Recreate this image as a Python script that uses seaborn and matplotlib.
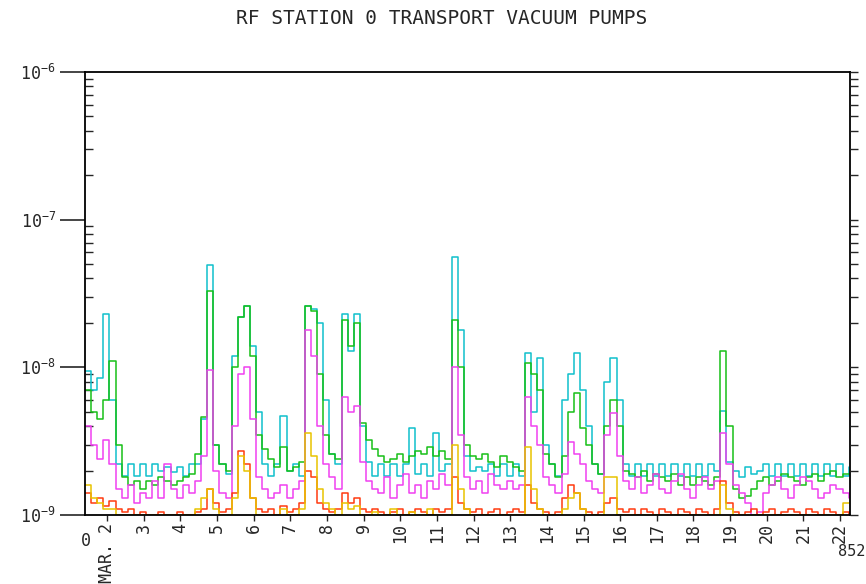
import numpy as np
import pandas as pd
import matplotlib
matplotlib.use("Agg")
import matplotlib.pyplot as plt
import seaborn as sns

# Pump pressures in units of 1e-9 Torr, one reading every 4 hours
start_day = 1.4
step_day = 1 / 6

vp_cyan = [
    9.5, 7, 8.5, 23, 6, 2.2, 1.85, 2.2, 1.85, 2.2,
    1.85, 2.2, 2.0, 2.1, 1.95, 2.1, 1.85, 2.2, 2.2, 4.5,
    49, 3, 2.2, 1.9, 12, 22, 26, 14, 5, 2.2,
    1.85, 2.2, 4.7, 2.0, 2.2, 1.85, 26, 25, 20, 6,
    2.6, 2.2, 23, 13, 23, 4, 2.3, 1.85, 2.2, 1.85,
    2.2, 1.85, 2.2, 3.9, 1.9, 2.2, 1.85, 3.6, 2.0, 2.2,
    56, 18, 2.5, 2.0, 2.1, 2.0, 2.2, 1.85, 2.2, 1.85,
    2.2, 1.85, 12.5, 5, 11.5, 3, 2.2, 1.85, 6, 9,
    12.5, 7, 4, 2.2, 1.9, 8, 11.5, 6, 2.2, 1.85,
    2.2, 1.85, 2.2, 1.85, 2.2, 1.85, 2.2, 1.85, 2.2, 1.85,
    2.2, 1.85, 2.2, 2.0, 5.1, 2.3, 2.0, 1.8, 2.1, 1.9,
    2.0, 2.2, 1.85, 2.2, 1.85, 2.2, 1.85, 2.2, 1.85, 2.2,
    1.85, 2.2, 1.85, 2.2, 1.85, 2.1,
]
vp_green = [
    7, 5, 4.5, 6, 11, 3, 1.8, 1.6, 1.7, 1.5,
    1.7, 1.6, 1.8, 1.7, 1.6, 1.7, 1.8, 1.9, 2.6, 4.6,
    33, 3, 2.2, 2.0, 10, 22, 26, 12, 3.5, 2.8,
    2.4, 2.1, 2.9, 2.0, 2.1, 2.3, 26, 24, 9, 3.5,
    2.6, 2.4, 21, 14, 20, 4.2, 3.2, 2.8, 2.5, 2.3,
    2.4, 2.6, 2.3, 2.5, 2.7, 2.6, 2.9, 2.5, 2.7, 2.4,
    21, 10, 3, 2.5, 2.4, 2.6, 2.3, 2.1, 2.5, 2.3,
    2.1, 2.0, 10.7, 9, 7, 2.6, 2.2, 1.8, 2.5, 5,
    6.7, 3.9, 3, 2.2, 1.9, 4, 6, 4, 2.0, 1.9,
    1.8, 2.0, 1.7, 1.9, 1.8, 1.7, 1.9, 1.6, 1.8, 1.6,
    1.8, 1.7, 1.6, 1.8, 13, 4, 1.5, 1.3, 1.35, 1.5,
    1.7, 1.8, 1.6, 1.7, 1.9, 1.8, 1.7, 1.6, 1.8, 1.9,
    1.7, 1.9, 2.0, 1.8, 1.9, 1.9,
]
vp_magenta = [
    4, 3, 2.4, 3.2, 2.2, 1.5, 1.3, 1.6, 1.2, 1.4,
    1.3, 1.7, 1.3, 2.2, 1.5, 1.3, 1.6, 1.4, 1.7, 2.5,
    9.6, 2.0, 1.4, 1.3, 4, 9, 10, 4.5, 1.8, 1.5,
    1.3, 1.4, 1.6, 1.3, 1.5, 1.7, 18, 12, 4, 2.2,
    1.8, 1.5, 6.3, 5, 5.5, 2.3, 1.7, 1.5, 1.4, 1.8,
    1.3, 1.6, 1.9, 1.4, 1.6, 1.3, 1.7, 1.5, 1.9, 1.6,
    10, 3.5, 1.8, 1.5, 1.7, 1.4, 1.9, 1.6, 1.5, 1.7,
    1.5, 1.6, 6.3, 4, 3, 1.8, 1.6, 1.4, 1.9, 3.1,
    2.6, 2.2, 1.7, 1.5, 1.4, 3.5, 4.9, 2.5, 1.7, 1.5,
    1.8, 1.4, 1.6, 1.9, 1.5, 1.4, 1.7, 1.9, 1.5, 1.3,
    1.6, 1.8, 1.5, 1.7, 3.6, 2.2, 1.6, 1.4, 1.2, 1.0,
    1.05, 1.4, 1.6, 1.8, 1.5, 1.3, 1.6, 1.8, 1.7, 1.5,
    1.3, 1.4, 1.6, 1.5, 1.4, 1.3,
]
vp_red = [
    1.4, 1.2, 1.3, 1.15, 1.25, 1.1, 1.05, 1.1, 1.0, 1.05,
    1.0, 1.0, 1.05, 1.0, 1.0, 1.05, 1.0, 1.0, 1.05, 1.1,
    1.5, 1.2, 1.05, 1.1, 1.4, 2.7, 2.2, 1.3, 1.1, 1.05,
    1.1, 1.0, 1.15, 1.05, 1.1, 1.2, 2.0, 1.8, 1.2, 1.1,
    1.05, 1.1, 1.4, 1.2, 1.3, 1.1, 1.05, 1.1, 1.05, 1.0,
    1.05, 1.1, 1.0, 1.05, 1.1, 1.05, 1.0, 1.1, 1.05, 1.1,
    1.8, 1.2, 1.1, 1.05, 1.1, 1.0, 1.05, 1.1, 1.0, 1.05,
    1.1, 1.05, 1.6, 1.2, 1.1, 1.05, 1.0, 1.05, 1.3, 1.6,
    1.4, 1.1, 1.05, 1.0, 1.05, 1.2, 1.3, 1.1, 1.05, 1.1,
    1.0, 1.1, 1.05, 1.0, 1.1, 1.05, 1.0, 1.1, 1.05, 1.0,
    1.1, 1.05, 1.0, 1.1, 1.7, 1.2, 1.05, 1.0, 1.05, 1.1,
    1.0, 1.05, 1.1, 1.0, 1.05, 1.1, 1.05, 1.0, 1.1, 1.05,
    1.0, 1.1, 1.05, 1.0, 1.05, 1.0,
]
vp_yellow = [
    1.6, 1.3, 1.2, 1.1, 1.1, 1.0, 1.0, 1.0, 1.0, 1.0,
    1.0, 1.0, 1.0, 1.0, 1.0, 1.0, 1.0, 1.0, 1.1, 1.3,
    1.5, 1.1, 1.0, 1.0, 1.3, 2.5, 2.0, 1.3, 1.0, 1.0,
    1.0, 1.0, 1.1, 1.0, 1.0, 1.1, 3.6, 2.5, 1.5, 1.2,
    1.1, 1.0, 1.2, 1.1, 1.15, 1.0, 1.0, 1.05, 1.0, 1.0,
    1.1, 1.0, 1.0, 1.05, 1.0, 1.0, 1.1, 1.0, 1.0, 1.0,
    3.0, 1.5, 1.1, 1.0, 1.0, 1.0, 1.0, 1.0, 1.0, 1.0,
    1.0, 1.0, 2.9, 1.5, 1.1, 1.0, 1.0, 1.0, 1.1, 1.3,
    1.4, 1.1, 1.0, 1.0, 1.0, 1.8, 1.8, 1.0, 1.0, 1.0,
    1.0, 1.0, 1.0, 1.0, 1.0, 1.0, 1.0, 1.0, 1.0, 1.0,
    1.0, 1.0, 1.0, 1.0, 1.6, 1.1, 1.0, 1.0, 1.0, 1.0,
    1.0, 1.0, 1.0, 1.0, 1.0, 1.0, 1.0, 1.0, 1.0, 1.0,
    1.0, 1.0, 1.0, 1.0, 1.2, 1.2,
]

pump_names = ["VP1", "VP2", "VP3", "VP4", "VP5"]
pump_colors = ["#10c0cc", "#18c018", "#f040f0", "#ff3a10", "#e8c400"]

day_ticks = [2, 3, 4, 5, 6, 7, 8, 9, 10, 11, 12, 13, 14, 15, 16, 17, 18, 19, 20, 21, 22]
day_labels = ["MAR. 2", "3", "4", "5", "6", "7", "8", "9", "10", "11", "12",
              "13", "14", "15", "16", "17", "18", "19", "20", "21", "22"]
decade_ticks = [1e-9, 1e-8, 1e-7, 1e-6]
decade_labels = [r"$\mathregular{10^{-9}}$", r"$\mathregular{10^{-8}}$",
                 r"$\mathregular{10^{-7}}$", r"$\mathregular{10^{-6}}$"]

# Long-form table
frames = []
for name, vals in zip(pump_names, [vp_cyan, vp_green, vp_magenta, vp_red, vp_yellow]):
    vals = np.asarray(vals, dtype=float)
    frames.append(pd.DataFrame({
        "day": start_day + step_day * np.arange(len(vals)),
        "pressure": vals * 1e-9,
        "pump": name,
    }))
df = pd.concat(frames, ignore_index=True)

sns.set_style("white")
plt.rcParams["font.family"] = ["DejaVu Sans Mono", "DejaVu Sans"]
plt.rcParams["mathtext.fontset"] = "custom"
plt.rcParams["mathtext.rm"] = "DejaVu Sans Mono"

fig = plt.figure(figsize=(8.66, 5.84), dpi=100)
ax = fig.add_axes([85 / 866, 1 - 515 / 584, 765 / 866, 443 / 584])

sns.lineplot(data=df, x="day", y="pressure", hue="pump", hue_order=pump_names,
             palette=dict(zip(pump_names, pump_colors)), drawstyle="steps-post",
             linewidth=1.1, estimator=None, sort=False, legend=False, ax=ax)

ax.set_yscale("log")
ax.set_ylim(1e-9, 1e-6)
ax.set_xlim(1.4, 22.27)
ax.set_xlabel("")
ax.set_ylabel("")

for s in ax.spines.values():
    s.set_color("black")
    s.set_linewidth(1.3)

# Left: decade labels, inward minor ticks
ax.set_yticks(decade_ticks)
ax.set_yticklabels(decade_labels)
ax.yaxis.set_minor_locator(matplotlib.ticker.LogLocator(base=10, subs=np.arange(2, 10)))
ax.yaxis.set_minor_formatter(matplotlib.ticker.NullFormatter())
ax.tick_params(axis="y", which="major", direction="out", length=18, width=1.2,
               pad=3, labelsize=12, left=True, right=False)
ax.tick_params(axis="y", which="minor", direction="in", length=6, width=1.0,
               left=True, right=False)
for t, v in zip(ax.yaxis.get_major_ticks(), decade_ticks):
    if v != 1e-8:
        t.tick1line.set_visible(False)

# Right: outward ticks only
axr = ax.twinx()
axr.set_yscale("log")
axr.set_ylim(ax.get_ylim())
axr.set_yticks(decade_ticks)
axr.yaxis.set_minor_locator(matplotlib.ticker.LogLocator(base=10, subs=np.arange(2, 10)))
axr.yaxis.set_minor_formatter(matplotlib.ticker.NullFormatter())
axr.set_yticklabels([])
axr.tick_params(axis="y", which="both", direction="out", length=6, width=1.0, right=True)
for s in axr.spines.values():
    s.set_visible(False)

# Bottom: day ticks with rotated labels
ax.set_xticks(day_ticks)
ax.set_xticklabels(day_labels, rotation=90, va="top", ha="center", fontsize=12)
ax.tick_params(axis="x", which="major", direction="out", length=4, width=1.0, pad=2,
               bottom=True, top=False)

fig.text(442 / 866, 1 - 18 / 584, "RF STATION 0 TRANSPORT VACUUM PUMPS",
         ha="center", va="center", fontsize=14)
fig.text(86 / 866, 1 - 541 / 584, "0", ha="center", va="center", fontsize=12)
fig.text(865 / 866, 1 - 552 / 584, "852", ha="right", va="center", fontsize=11)

fig.savefig("out.png", dpi=100)
